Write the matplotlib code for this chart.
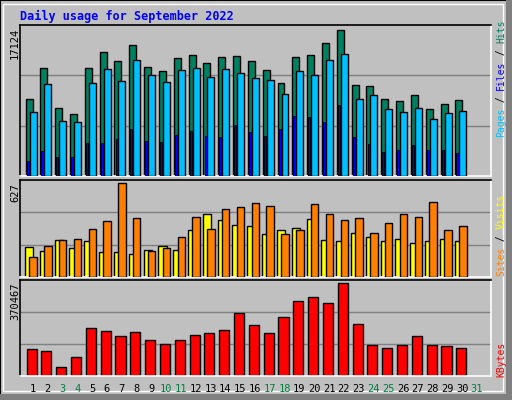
import matplotlib
matplotlib.use("Agg")
import matplotlib.pyplot as plt
import numpy as np
from matplotlib.patches import Rectangle

BG = "#c0c0c0"
GRID = "#808080"
MONO = "DejaVu Sans Mono"

days = list(range(1, 32))
weekend = [3, 4, 10, 11, 17, 18, 24, 25, 31]

hits = [9087, 12699, 8039, 7223, 12699, 14563, 13514, 15378, 12815, 12349,
        13864, 14213, 13281, 13980, 14097, 13514, 12466, 10951, 13980, 14213,
        15611, 17124, 10718, 10602, 9087, 8854, 9553, 7922, 8505, 8971]
files = [7456, 10835, 6408, 6291, 10951, 12582, 11184, 13631, 11883, 11068,
         12466, 12699, 11650, 12582, 12116, 11534, 11301, 9670, 12349, 11883,
         13631, 14330, 9087, 9553, 7806, 7456, 8039, 6641, 7340, 7573]
pages = [1748, 2913, 2214, 2214, 3845, 3845, 4311, 5476, 4078, 3961,
         4777, 5243, 4660, 4544, 5942, 5126, 4660, 5476, 6990, 6874,
         6291, 8388, 4544, 3728, 2796, 3029, 3612, 3029, 3029, 2680]
visits = [131, 208, 247, 256, 324, 376, 627, 396, 172, 192,
          267, 403, 321, 457, 471, 498, 478, 288, 315, 491,
          423, 383, 396, 294, 362, 423, 403, 505, 315, 342]
sites = [199, 172, 247, 192, 240, 165, 165, 152, 179, 206,
         179, 315, 423, 383, 349, 342, 288, 315, 328, 389,
         247, 240, 294, 267, 240, 254, 226, 240, 254, 240]
kbytes = [106808, 98696, 37856, 74360, 191984, 179816, 159536, 175760, 143312, 127088,
          143312, 163592, 171704, 183872, 252824, 204152, 171704, 236600, 301496, 313664,
          293384, 370467, 208208, 123032, 110864, 123032, 159536, 123032, 118976, 110864]

W, H = 512, 400
fig = plt.figure(figsize=(W / 100, H / 100), dpi=100)
fig.patch.set_facecolor(BG)

# bevelled frame
fig.add_artist(Rectangle((0, 0), 1, 1, transform=fig.transFigure, fill=False,
                         edgecolor="black", lw=1.5))
fig.add_artist(Rectangle((1 - 6 / W, 0), 6 / W, 1, transform=fig.transFigure,
                         facecolor=GRID, edgecolor="none"))
fig.add_artist(Rectangle((0, 0), 1, 6 / H, transform=fig.transFigure,
                         facecolor=GRID, edgecolor="none"))
fig.add_artist(Rectangle((3 / W, 9 / H), 1 - 12 / W, 1 - 13 / H, transform=fig.transFigure,
                         fill=False, edgecolor="white", lw=1))

fig.text(20 / W, 1 - 16 / H, "Daily usage for September 2022", color="#0000ff",
         family=MONO, fontsize=8.5, fontweight="bold", va="center", ha="left")


def panel(top, bottom, ymax, label):
    ax = fig.add_axes([20 / W, 1 - bottom / H, 471 / W, (bottom - top) / H])
    ax.set_facecolor(BG)
    top_v = ymax * 1.035
    ax.set_ylim(0, top_v)
    ax.set_xlim(0.12, 31.9)
    for g in (top_v / 3, 2 * top_v / 3):
        ax.axhline(g, color=GRID, lw=1, zorder=0)
    ax.set_xticks([])
    ax.set_yticks([])
    ax.spines["left"].set_color("black")
    ax.spines["top"].set_color("black")
    ax.spines["right"].set_color("white")
    ax.spines["bottom"].set_color("white")
    for s in ax.spines.values():
        s.set_linewidth(1.2)
    fig.text(20 / W, 1 - (top + 3) / H, label, rotation=90,
             ha="right", va="top", family=MONO, fontsize=7.5)
    return ax


x = np.array(days[:30])

ax1 = panel(25, 176, max(hits), "17124")
ax1.bar(x - 0.27, hits, width=0.47, color="#008060", edgecolor="black", lw=1, zorder=2)
ax1.bar(x, files, width=0.47, color="#00c0ff", edgecolor="black", lw=1, zorder=3)
ax1.bar(x - 0.36, pages, width=0.14, color="#0000ff", edgecolor="black", lw=0.6, zorder=4)

ax2 = panel(180, 277, max(visits), "627")
ax2.bar(x - 0.27, sites, width=0.55, color="#ffff00", edgecolor="black", lw=1, zorder=2)
ax2.bar(x, visits, width=0.5, color="#ff8000", edgecolor="black", lw=1, zorder=3)

ax3 = panel(280, 376, max(kbytes), "370467")
ax3.bar(x - 0.1, kbytes, width=0.68, color="#ff0000", edgecolor="black", lw=1, zorder=2)

# day labels
for d in days:
    px = 33 + (d - 1) * 14.8
    fig.text(px / W, 1 - 389 / H, str(d), ha="center", va="center", family=MONO,
             fontsize=7.5, color="#008040" if d in weekend else "black")

# rotated multi-coloured side labels, stacked bottom to top
fig.canvas.draw()
renderer = fig.canvas.get_renderer()


def side_label(y_bottom, pieces):
    y = 1 - y_bottom / H
    for txt, col in pieces:
        t = fig.text(501 / W, y, txt, rotation=90, ha="center", va="bottom",
                     family=MONO, fontsize=7, color=col)
        bb = t.get_window_extent(renderer)
        y += bb.height / H


side_label(137, [("Pages", "#00c0ff"), (" / ", "black"), ("Files", "#0000ff"),
                 (" / ", "black"), ("Hits", "#008060")])
side_label(276, [("Sites", "#ff8000"), (" / ", "black"), ("Visits", "#ffff00")])
side_label(377, [("KBytes", "#ff0000")])

fig.savefig("out.png", dpi=100, facecolor=BG)
